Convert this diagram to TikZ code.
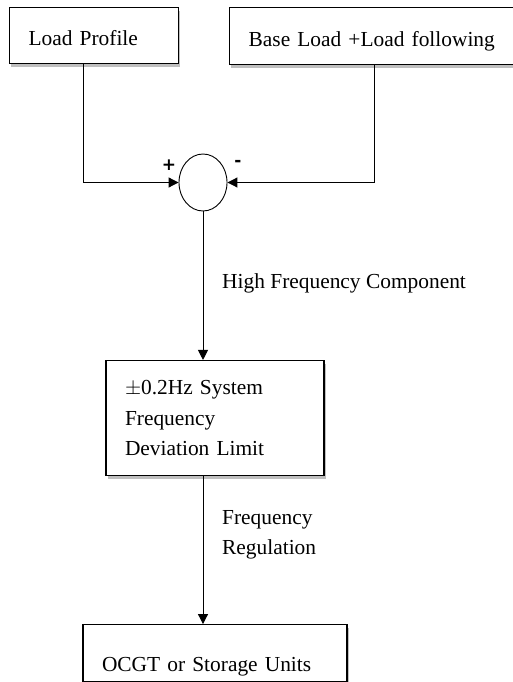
\documentclass[tikz,border=0pt]{standalone}
\usepackage{fontspec}
\setmainfont{Liberation Serif}
\newfontfamily\signfont{DejaVu Sans}
\usepackage{tikz}
\usetikzlibrary{positioning,arrows.meta,shapes.geometric,shadows}

\begin{document}
\begin{tikzpicture}[
  x=1pt, y=1pt,
  box/.style={draw, line width=1.1pt, fill=white, align=left, inner xsep=19pt, inner ysep=0pt, font=\fontsize{21.4}{30.5}\selectfont, drop shadow={shadow xshift=1.5pt, shadow yshift=-3.5pt, opacity=0.5, fill=gray}},
  oneline/.style={text height=#1, text depth=0pt},
  sumnode/.style={draw, ellipse, line width=0.9pt, minimum width=48pt, minimum height=57pt, inner sep=0pt, fill=white},
  arr/.style={-{Triangle[length=10pt, width=10pt]}, line width=1pt},
  lbl/.style={font=\fontsize{21.4}{30}\selectfont, align=left, inner sep=0pt},
  sgn/.style={font=\signfont\bfseries\fontsize{17}{17}\selectfont, inner sep=0pt}]
\useasboundingbox (0,0) rectangle (513,-682);
\node[box, oneline=20pt, text width=131pt, minimum height=56pt, anchor=north west] (lp) at (9,-7) {Load Profile};
\node[box, oneline=20pt, text width=252pt, minimum height=57pt, right=50pt of lp.north east, anchor=north west] (bl) {Base Load +Load following};
\node[sumnode] (sum) at (203,-182.5) {};
\node[sgn] (plus) at (169,-165) {+};
\node[sgn] (minus) at (238,-163) {-};
\node[box, text width=180pt, minimum height=115pt, below=148.5pt of sum.south, xshift=12pt] (mid) {$\pm$0.2Hz System\\Frequency\\Deviation Limit};
\node[box, oneline=37pt, text width=226pt, minimum height=57pt, below=148pt of mid] (ocgt) {OCGT or Storage Units};
\node[lbl, anchor=base west] (hfc) at (222,-288) {High Frequency Component};
\node[lbl, anchor=west] (freg) at (222,-535) {Frequency\\Regulation};
\draw[arr] ([xshift=-10.5pt]lp.south) |- (sum.west);
\draw[arr] (bl.south) |- (sum.east);
\draw[arr] (sum.south) -- (sum.south |- mid.north);
\draw[arr] (sum.south |- mid.south) -- (sum.south |- ocgt.north);
\end{tikzpicture}
\end{document}
